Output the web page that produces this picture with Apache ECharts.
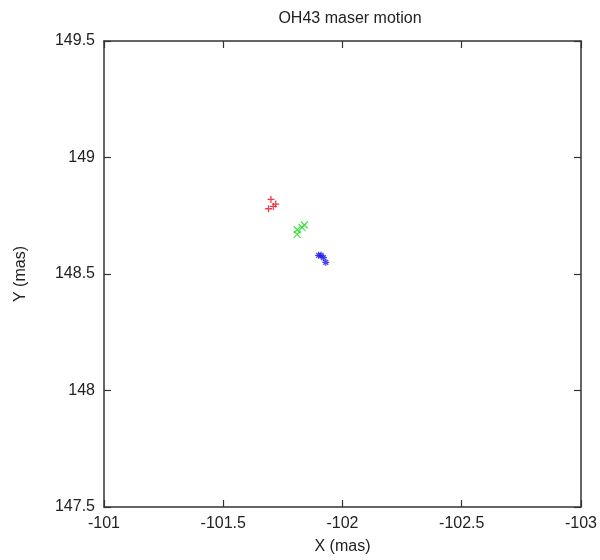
<!DOCTYPE html>
<html><head><meta charset="utf-8">
<script src="https://cdn.jsdelivr.net/npm/echarts@6/dist/echarts.min.js"></script>
<style>html,body{margin:0;padding:0;background:#fff}#c{width:600px;height:560px}</style>
</head><body><div id="c"></div>
<script>
var title = 'OH43 maser motion';
var xTicks = [-101, -101.5, -102, -102.5, -103];
var yTicks = [147.5, 148, 148.5, 149, 149.5];
var redX = [-101.70, -101.71, -101.69, -101.72];
var redY = [148.82, 148.79, 148.78, 148.80];
var greenX = [-101.83, -101.81, -101.81, -101.84];
var greenY = [148.70, 148.69, 148.67, 148.71];
var blueX = [-101.91, -101.92, -101.93, -101.90];
var blueY = [148.58, 148.57, 148.55, 148.58];

function pairs(xs, ys){ return xs.map(function(x,i){return [x, ys[i]];}); }
var plusPath = 'path://M0,5L10,5M5,0L5,10';
var crossPath = 'path://M0,0L10,10M10,0L0,10';
var starPath = 'path://M0,5L10,5M5,0L5,10M1.5,1.5L8.5,8.5M8.5,1.5L1.5,8.5';
function ser(name, xs, ys, sym, col){
  return {name:name, type:'scatter', xAxisIndex:0, yAxisIndex:0, data:pairs(xs,ys), symbol:sym, symbolSize:7,
    itemStyle:{color:'none', borderColor:col, borderWidth:1.3}, emphasis:{disabled:true}};
}
var font = 'Liberation Sans, Arial, sans-serif';
var axisLine = {show:true, lineStyle:{color:'#333', width:1.5}};
var chart = echarts.init(document.getElementById('c'), null, {renderer:'canvas'});
chart.setOption({
  animation:false,
  title:{text:title, left:345, top:6, textAlign:'center', textStyle:{fontFamily:font, fontSize:16, fontWeight:'normal', color:'#222'}},
  grid:{left:104, right:17, top:41, bottom:49},
  xAxis:[{type:'value', min:-103, max:-101, interval:0.5, inverse:true, position:'bottom',
    name:'X (mas)', nameLocation:'middle', nameGap:32, nameTextStyle:{fontFamily:font, fontSize:16, color:'#222'},
    axisLine:axisLine, axisTick:{show:true, inside:true, length:7, lineStyle:{color:'#333', width:1.2}},
    axisLabel:{fontFamily:font, fontSize:16, color:'#222', margin:9, formatter:function(v){return String(v);}},
    splitLine:{show:false}},
   {type:'value', min:-103, max:-101, interval:0.5, inverse:true, position:'top',
    axisLine:axisLine, axisTick:{show:true, inside:true, length:7, lineStyle:{color:'#333', width:1.2}},
    axisLabel:{show:false}, splitLine:{show:false}}],
  yAxis:[{type:'value', min:147.5, max:149.5, interval:0.5, position:'left',
    name:'Y (mas)', nameLocation:'middle', nameGap:75, nameRotate:90, nameTextStyle:{fontFamily:font, fontSize:16, color:'#222'},
    axisLine:axisLine, axisTick:{show:true, inside:true, length:7, lineStyle:{color:'#333', width:1.2}},
    axisLabel:{fontFamily:font, fontSize:16, color:'#222', margin:9, formatter:function(v){return String(v);}},
    splitLine:{show:false}},
   {type:'value', min:147.5, max:149.5, interval:0.5, position:'right',
    axisLine:axisLine, axisTick:{show:true, inside:true, length:7, lineStyle:{color:'#333', width:1.2}},
    axisLabel:{show:false}, splitLine:{show:false}}],
  series:[
    ser('red', redX, redY, plusPath, '#e8101a'),
    ser('green', greenX, greenY, crossPath, '#22dd22'),
    ser('blue', blueX, blueY, starPath, '#1a1aee')
  ]
});
</script></body></html>
